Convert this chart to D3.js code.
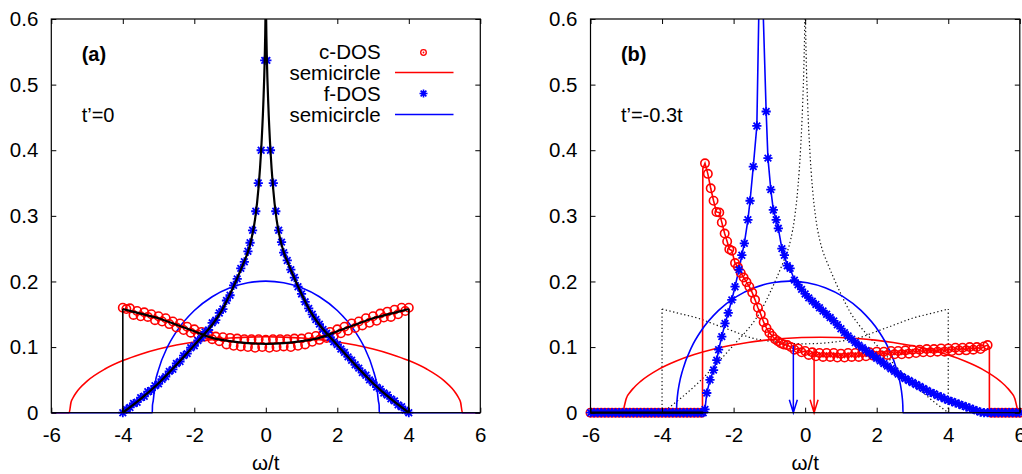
<!DOCTYPE html>
<html><head><meta charset="utf-8">
<script src="https://cdn.jsdelivr.net/npm/d3@7"></script>
<style>body{margin:0;background:#fff}svg{display:block}text{font-family:"Liberation Sans",Arial,Helvetica,sans-serif}</style>
</head><body><svg id="c" width="1022" height="474"></svg>
<script>
// ---------------- data ----------------
const xTicks = [-6,-4,-2,0,2,4,6];
const yTicks = [0,0.1,0.2,0.3,0.4,0.5,0.6];
const yTickLabels = ["0","0.1","0.2","0.3","0.4","0.5","0.6"];
const xLabel = "\u03c9/t";
const legendLabels = ["c-DOS","semicircle","f-DOS","semicircle"];
const panelTags = ["(a)","(b)"];
const panelNotes = ["t\u2019=0","t\u2019=-0.3t"];

// panel (a): t'=0
const cLineA = [[-4,0.158],[-3.5,0.151],[-3,0.144],[-2.5,0.134],[-2,0.124],[-1.5,0.114],[-1,0.109],[-0.5,0.106],[0,0.105],[0.5,0.106],[1,0.109],[1.5,0.114],[2,0.124],[2.5,0.134],[3,0.144],[3.5,0.151],[4,0.158]];
const fLineA = [[-4,0],[-3.5,0.021],[-3,0.045],[-2.5,0.073],[-2,0.103],[-1.75,0.118],[-1.5,0.134],[-1.25,0.154],[-1,0.181],[-0.8,0.205],[-0.6,0.231],[-0.5,0.245],[-0.4,0.265],[-0.3,0.295],[-0.2,0.345],[-0.13,0.4],[-0.07,0.47],[-0.03,0.54],[-0.01,0.6],[0,0.66],[0.01,0.6],[0.03,0.54],[0.07,0.47],[0.13,0.4],[0.2,0.345],[0.3,0.295],[0.4,0.265],[0.5,0.245],[0.6,0.231],[0.8,0.205],[1,0.181],[1.25,0.154],[1.5,0.134],[1.75,0.118],[2,0.103],[2.5,0.073],[3,0.045],[3.5,0.021],[4,0]];
const cDosA = [[-4.0,0.160],[-3.9,0.158],[-3.8,0.159],[-3.7,0.149],[-3.6,0.155],[-3.5,0.147],[-3.4,0.153],[-3.3,0.146],[-3.2,0.150],[-3.1,0.141],[-3.0,0.147],[-2.9,0.139],[-2.8,0.144],[-2.7,0.135],[-2.6,0.139],[-2.5,0.130],[-2.4,0.136],[-2.3,0.126],[-2.2,0.131],[-2.1,0.122],[-2.0,0.127],[-1.9,0.119],[-1.8,0.123],[-1.7,0.116],[-1.6,0.119],[-1.5,0.112],[-1.4,0.116],[-1.3,0.109],[-1.2,0.115],[-1.1,0.104],[-1.0,0.114],[-0.9,0.102],[-0.8,0.113],[-0.7,0.101],[-0.6,0.112],[-0.5,0.100],[-0.4,0.112],[-0.3,0.099],[-0.2,0.112],[-0.1,0.100],[0.0,0.111],[0.1,0.099],[0.2,0.112],[0.3,0.100],[0.4,0.112],[0.5,0.101],[0.6,0.112],[0.7,0.100],[0.8,0.113],[0.9,0.102],[1.0,0.113],[1.1,0.104],[1.2,0.115],[1.3,0.108],[1.4,0.117],[1.5,0.111],[1.6,0.120],[1.7,0.114],[1.8,0.123],[1.9,0.117],[2.0,0.127],[2.1,0.121],[2.2,0.131],[2.3,0.125],[2.4,0.136],[2.5,0.129],[2.6,0.139],[2.7,0.133],[2.8,0.144],[2.9,0.137],[3.0,0.147],[3.1,0.140],[3.2,0.151],[3.3,0.145],[3.4,0.154],[3.5,0.146],[3.6,0.157],[3.7,0.150],[3.8,0.160],[3.9,0.155],[4.0,0.160]];
const fDosA = [[-4.0,0.000],[-3.9,0.005],[-3.8,0.008],[-3.7,0.014],[-3.6,0.016],[-3.5,0.023],[-3.4,0.025],[-3.3,0.032],[-3.2,0.034],[-3.1,0.041],[-3.0,0.044],[-2.9,0.051],[-2.8,0.055],[-2.7,0.063],[-2.6,0.066],[-2.5,0.075],[-2.4,0.078],[-2.3,0.087],[-2.2,0.090],[-2.1,0.099],[-2.0,0.102],[-1.9,0.110],[-1.8,0.114],[-1.7,0.123],[-1.6,0.126],[-1.5,0.137],[-1.4,0.141],[-1.3,0.152],[-1.2,0.158],[-1.1,0.171],[-1.0,0.179],[-0.9,0.194],[-0.8,0.204],[-0.7,0.220],[-0.6,0.230],[-0.5,0.246],[-0.44,0.259],[-0.37,0.278],[-0.28,0.307],[-0.21,0.350],[-0.13,0.400],[-0.03,0.537],[0.03,0.537],[0.13,0.400],[0.21,0.350],[0.28,0.307],[0.36,0.278],[0.44,0.260],[0.5,0.244],[0.6,0.232],[0.7,0.218],[0.8,0.206],[0.9,0.192],[1.0,0.181],[1.1,0.169],[1.2,0.159],[1.3,0.150],[1.4,0.142],[1.5,0.135],[1.6,0.127],[1.7,0.121],[1.8,0.115],[1.9,0.108],[2.0,0.104],[2.1,0.097],[2.2,0.092],[2.3,0.085],[2.4,0.080],[2.5,0.073],[2.6,0.068],[2.7,0.061],[2.8,0.057],[2.9,0.050],[3.0,0.046],[3.1,0.039],[3.2,0.036],[3.3,0.030],[3.4,0.027],[3.5,0.021],[3.6,0.018],[3.7,0.012],[3.8,0.009],[3.9,0.004],[4.0,0.000]];
const semiRedA = [[-6,0],[-5.5,0],[-5.45,0.0156],[-5.4,0.0220],[-5.3,0.0309],[-5.2,0.0377],[-5.0,0.0482],[-4.5,0.0665],[-4.0,0.0794],[-3.5,0.0892],[-3.0,0.0970],[-2.5,0.1031],[-2.0,0.1078],[-1.5,0.1113],[-1.0,0.1138],[-0.5,0.1152],[0,0.1157],[0.5,0.1152],[1.0,0.1138],[1.5,0.1113],[2.0,0.1078],[2.5,0.1031],[3.0,0.0970],[3.5,0.0892],[4.0,0.0794],[4.5,0.0665],[5.0,0.0482],[5.2,0.0377],[5.3,0.0309],[5.4,0.0220],[5.45,0.0156],[5.5,0],[6,0]];
const semiBlueA = [[-6,0],[-3.175,0],[-3.17,0.0113],[-3.15,0.0178],[-3.1,0.0433],[-3.0,0.0656],[-2.75,0.1002],[-2.5,0.1236],[-2.0,0.1557],[-1.5,0.1767],[-1.0,0.1903],[-0.5,0.1980],[0,0.2005],[0.5,0.1980],[1.0,0.1903],[1.5,0.1767],[2.0,0.1557],[2.5,0.1236],[2.75,0.1002],[3.0,0.0656],[3.1,0.0433],[3.15,0.0178],[3.17,0.0113],[3.175,0],[6,0]];

// panel (b): t'=-0.3t
const cDosB = [[-2.80,0.380],[-2.72,0.364],[-2.64,0.342],[-2.56,0.323],[-2.48,0.306],[-2.40,0.305],[-2.33,0.290],[-2.25,0.273],[-2.18,0.261],[-2.12,0.249],[-2.05,0.247],[-1.96,0.228],[-1.88,0.222],[-1.80,0.213],[-1.72,0.206],[-1.64,0.199],[-1.56,0.192],[-1.48,0.183],[-1.40,0.172],[-1.32,0.160],[-1.24,0.150],[-1.16,0.138],[-1.08,0.129],[-1.00,0.122],[-0.92,0.117],[-0.84,0.112],[-0.76,0.109],[-0.68,0.106],[-0.60,0.104],[-0.50,0.103],[-0.40,0.100],[-0.30,0.096],[-0.20,0.098],[-0.10,0.092],[0.00,0.094],[0.10,0.088],[0.20,0.092],[0.30,0.086],[0.40,0.091],[0.50,0.085],[0.60,0.091],[0.70,0.085],[0.80,0.091],[0.90,0.084],[1.00,0.090],[1.10,0.084],[1.20,0.091],[1.30,0.085],[1.40,0.091],[1.50,0.085],[1.60,0.092],[1.70,0.086],[1.80,0.092],[1.90,0.087],[2.00,0.093],[2.10,0.087],[2.20,0.093],[2.30,0.088],[2.40,0.094],[2.50,0.089],[2.60,0.094],[2.70,0.089],[2.80,0.095],[2.90,0.090],[3.00,0.096],[3.10,0.091],[3.20,0.096],[3.30,0.092],[3.40,0.097],[3.50,0.092],[3.60,0.097],[3.70,0.093],[3.80,0.098],[3.90,0.093],[4.00,0.098],[4.10,0.094],[4.20,0.099],[4.30,0.095],[4.40,0.099],[4.50,0.095],[4.60,0.100],[4.70,0.096],[4.80,0.100],[4.90,0.097],[5.00,0.101],[5.10,0.103]];
const cEdgesB = [[-6,0],[-2.87,0],[-2.86,0.372],[5.15,0.100],[5.15,0],[6,0]];
const fDosB = [[-2.80,0.005],[-2.75,0.030],[-2.66,0.050],[-2.56,0.065],[-2.47,0.080],[-2.42,0.096],[-2.33,0.116],[-2.24,0.136],[-2.15,0.152],[-2.05,0.172],[-1.96,0.192],[-1.85,0.218],[-1.77,0.240],[-1.70,0.258],[-1.60,0.294],[-1.54,0.323],[-1.45,0.375],[-1.35,0.437],[-1.25,0.750],[-1.09,0.459],[-1.04,0.388],[-0.96,0.340],[-0.89,0.309],[-0.81,0.294],[-0.75,0.281],[-0.65,0.250],[-0.58,0.240],[-0.50,0.224],[-0.42,0.220],[-0.30,0.202],[-0.2,0.195],[-0.1,0.188],[0.0,0.181],[0.1,0.175],[0.2,0.170],[0.3,0.165],[0.4,0.160],[0.5,0.155],[0.6,0.150],[0.7,0.145],[0.8,0.140],[0.9,0.134],[1.0,0.128],[1.1,0.122],[1.2,0.117],[1.3,0.112],[1.4,0.107],[1.5,0.103],[1.6,0.099],[1.7,0.095],[1.8,0.091],[1.9,0.087],[2.0,0.083],[2.1,0.079],[2.2,0.075],[2.3,0.071],[2.4,0.067],[2.5,0.063],[2.6,0.059],[2.7,0.055],[2.8,0.052],[2.9,0.049],[3.0,0.046],[3.1,0.043],[3.2,0.040],[3.3,0.037],[3.4,0.034],[3.5,0.031],[3.6,0.029],[3.7,0.026],[3.8,0.024],[3.9,0.021],[4.0,0.019],[4.1,0.017],[4.2,0.015],[4.3,0.013],[4.4,0.011],[4.5,0.009],[4.6,0.007],[4.7,0.005],[4.8,0.003],[4.9,0.001]];
const semiRedB = [[-6,0],[-5.10,0],[-5.05,0.0109],[-5.00,0.0218],[-4.90,0.0307],[-4.80,0.0374],[-4.60,0.0478],[-4.10,0.0660],[-3.60,0.0788],[-3.10,0.0886],[-2.60,0.0963],[-2.10,0.1023],[-1.60,0.1071],[-1.10,0.1106],[-0.60,0.1131],[-0.10,0.1146],[0.43,0.1151],[0.96,0.1146],[1.46,0.1131],[1.96,0.1106],[2.46,0.1071],[2.96,0.1023],[3.46,0.0963],[3.96,0.0886],[4.46,0.0788],[4.96,0.0660],[5.46,0.0478],[5.66,0.0374],[5.76,0.0307],[5.86,0.0218],[5.91,0.0109],[5.96,0],[6,0]];
const semiBlueB = [[-6,0],[-3.595,0],[-3.59,0.0113],[-3.57,0.0252],[-3.52,0.0434],[-3.42,0.0657],[-3.17,0.1004],[-2.92,0.1238],[-2.42,0.1559],[-1.92,0.1769],[-1.42,0.1904],[-0.92,0.1981],[-0.43,0.2005],[0.06,0.1981],[0.56,0.1904],[1.06,0.1769],[1.56,0.1559],[2.06,0.1238],[2.31,0.1004],[2.56,0.0657],[2.66,0.0434],[2.71,0.0252],[2.73,0.0113],[2.735,0],[6,0]];
const zeroRedB = [-6,-5.9,-5.8,-5.7,-5.6,-5.5,-5.4,-5.3,-5.2,-5.1,-5,-4.9,-4.8,-4.7,-4.6,-4.5,-4.4,-4.3,-4.2,-4.1,-4,-3.9,-3.8,-3.7,-3.6,-3.5,-3.4,-3.3,-3.2,-3.1,-3,-2.9,5.2,5.3,5.4,5.5,5.6,5.7,5.8,5.9,6];
const zeroBlueB = [-6,-5.9,-5.8,-5.7,-5.6,-5.5,-5.4,-5.3,-5.2,-5.1,-5,-4.9,-4.8,-4.7,-4.6,-4.5,-4.4,-4.3,-4.2,-4.1,-4,-3.9,-3.8,-3.7,-3.6,-3.5,-3.4,-3.3,-3.2,-3.1,-3,-2.9,-2.85,5.0,5.1,5.2,5.3,5.4,5.5,5.6,5.7,5.8,5.9,6];
const arrowX = [-0.33, 0.25];
const arrowTop = [0.102, 0.097];

// ---------------- drawing ----------------
const RED = "#ff0000", BLUE = "#0000ff";
const FS = 20.5;
const svg = d3.select("#c");
const plotTop = 19, plotBottom = 412.7;
const panels = [{x0:51.3, x1:480.3, id:"a"}, {x0:590.5, x1:1019.8, id:"b"}];

function starPath(cx, cy, s) {
  const a = s * 0.72;
  return `M${cx-s},${cy}h${2*s}M${cx},${cy-s}v${2*s}M${cx-a},${cy-a}l${2*a},${2*a}M${cx-a},${cy+a}l${2*a},${-2*a}`;
}

panels.forEach((p, i) => {
  const x = d3.scaleLinear().domain([-6, 6]).range([p.x0, p.x1]);
  const y = d3.scaleLinear().domain([0, 0.6]).range([plotBottom, plotTop]);
  const g = svg.append("g");
  g.append("clipPath").attr("id", "clip" + p.id).append("rect")
    .attr("x", p.x0).attr("y", plotTop).attr("width", p.x1 - p.x0).attr("height", plotBottom - plotTop + 2);
  const plot = g.append("g").attr("clip-path", `url(#clip${p.id})`);
  const markers = g.append("g");
  const smooth = d3.line().x(d => x(d[0])).y(d => y(d[1])).curve(d3.curveMonotoneX);
  const straight = d3.line().x(d => x(d[0])).y(d => y(d[1]));

  const circles = (data) => markers.selectAll(null).data(data.filter(d => d[1] <= 0.6)).enter().append("circle")
    .attr("cx", d => x(d[0])).attr("cy", d => y(d[1])).attr("r", 4.2)
    .attr("fill", "none").attr("stroke", RED).attr("stroke-width", 1.6);
  const stars = (data) => markers.selectAll(null).data(data.filter(d => d[1] <= 0.6)).enter().append("path")
    .attr("d", d => starPath(x(d[0]), y(d[1]), 4.6)).attr("stroke", BLUE).attr("stroke-width", 1.8).attr("fill", "none");

  if (i === 0) {
    circles(cDosA);
    plot.append("path").attr("d", smooth(semiRedA)).attr("fill", "none").attr("stroke", RED).attr("stroke-width", 1.6);
    stars(fDosA);
    plot.append("path").attr("d", smooth(semiBlueA)).attr("fill", "none").attr("stroke", BLUE).attr("stroke-width", 1.6);
    const blk = g.append("g").attr("clip-path", `url(#clip${p.id})`);
    blk.append("path").attr("d", smooth(cLineA)).attr("fill", "none").attr("stroke", "#000").attr("stroke-width", 2.2);
    const ends = [cLineA[0], cLineA[cLineA.length - 1]];
    ends.forEach(e => blk.append("path").attr("d", straight([[e[0], 0], e])).attr("stroke", "#000").attr("stroke-width", 1.6));
    blk.append("path").attr("d", smooth(fLineA)).attr("fill", "none").attr("stroke", "#000").attr("stroke-width", 2.2);
  } else {
    // dotted t'=0 reference curves
    const dot = plot.append("g").attr("stroke", "#111").attr("stroke-width", 1.2).attr("stroke-dasharray", "1.3,2.5").attr("fill", "none");
    dot.append("path").attr("d", smooth(cLineA));
    [cLineA[0], cLineA[cLineA.length - 1]].forEach(e => dot.append("path").attr("d", straight([[e[0], 0], e])));
    dot.append("path").attr("d", smooth(fLineA));

    const redLine = [cEdgesB[0], cEdgesB[1], cEdgesB[2]].concat(cDosB, [cEdgesB[3], cEdgesB[4], cEdgesB[5]]);
    plot.append("path").attr("d", straight(redLine)).attr("fill", "none").attr("stroke", RED).attr("stroke-width", 1.6);
    circles(cDosB);
    circles(zeroRedB.map(v => [v, 0]));
    plot.append("path").attr("d", smooth(semiRedB)).attr("fill", "none").attr("stroke", RED).attr("stroke-width", 1.6);
    const blueLine = [[-6, 0], [-2.82, 0]].concat(fDosB, [[4.95, 0], [6, 0]]);
    plot.append("path").attr("d", straight(blueLine)).attr("fill", "none").attr("stroke", BLUE).attr("stroke-width", 1.6);
    stars(fDosB);
    stars(zeroBlueB.map(v => [v, 0]));
    plot.append("path").attr("d", smooth(semiBlueB)).attr("fill", "none").attr("stroke", BLUE).attr("stroke-width", 1.6);
    g.append("line").attr("x1", p.x0).attr("x2", x(-2.85)).attr("y1", plotBottom).attr("y2", plotBottom)
      .attr("stroke", "#000").attr("stroke-width", 2.2);
    // arrows
    arrowX.forEach((axv, k) => {
      const col = k === 0 ? BLUE : RED;
      const px = x(axv), y0 = y(arrowTop[k]), y1 = y(0);
      g.append("path").attr("d", `M${px},${y0}V${y1}M${px-4},${y1-13}L${px},${y1}L${px+4},${y1-13}`)
        .attr("fill", "none").attr("stroke", col).attr("stroke-width", 1.5);
    });
  }

  // frame
  g.append("rect").attr("x", p.x0).attr("y", plotTop).attr("width", p.x1 - p.x0).attr("height", plotBottom - plotTop)
    .attr("fill", "none").attr("stroke", "#000").attr("stroke-width", 1.2);

  // axes
  const ax = g.append("g").attr("transform", `translate(0,${plotBottom})`)
    .call(d3.axisBottom(x).tickValues(xTicks).tickSize(-5).tickPadding(15).tickFormat(d3.format("d")));
  const ay = g.append("g").attr("transform", `translate(${p.x0},0)`)
    .call(d3.axisLeft(y).tickValues(yTicks).tickSize(-5).tickPadding(13).tickFormat((d, k) => yTickLabels[k]));
  const at = g.append("g").attr("transform", `translate(0,${plotTop})`)
    .call(d3.axisTop(x).tickValues(xTicks).tickSize(-5).tickFormat(""));
  const ar = g.append("g").attr("transform", `translate(${p.x1},0)`)
    .call(d3.axisRight(y).tickValues(yTicks).tickSize(-5).tickFormat(""));
  [ax, ay, at, ar].forEach(a => {
    a.select(".domain").remove();
    a.selectAll("line").attr("stroke", "#000").attr("stroke-width", 1);
    a.selectAll("text").attr("font-size", FS).attr("fill", "#000").attr("font-family", '"Liberation Sans",Arial,sans-serif');
  });
  ax.selectAll("text").text(d => d < 0 ? "-" + Math.abs(d) : String(d));

  // axis label
  g.append("text").attr("x", (p.x0 + p.x1) / 2).attr("y", 470).attr("text-anchor", "middle")
    .attr("font-size", FS).text(xLabel);
  // tags
  g.append("text").attr("x", p.x0 + 30.4).attr("y", 61).attr("font-size", 20).attr("font-weight", "bold").text(panelTags[i]);
  g.append("text").attr("x", p.x0 + 30.4).attr("y", 121.7).attr("font-size", 20).text(panelNotes[i]);

  if (i === 0) {
    const ly = [59.3, 80, 100.7, 121.7];
    const lg = g.append("g");
    legendLabels.forEach((t, k) => {
      lg.append("text").attr("x", 380.6).attr("y", ly[k]).attr("text-anchor", "end").attr("font-size", FS).text(t);
    });
    lg.append("circle").attr("cx", 423.5).attr("cy", 52.5).attr("r", 2.8).attr("fill", "none").attr("stroke", RED).attr("stroke-width", 1.3);
    lg.append("circle").attr("cx", 423.5).attr("cy", 52.5).attr("r", 0.9).attr("fill", RED);
    lg.append("line").attr("x1", 395).attr("x2", 453.5).attr("y1", 72.5).attr("y2", 72.5).attr("stroke", RED).attr("stroke-width", 1.6);
    lg.append("path").attr("d", starPath(423.5, 93.5, 4)).attr("stroke", BLUE).attr("stroke-width", 1.6);
    lg.append("line").attr("x1", 395).attr("x2", 453.5).attr("y1", 114.5).attr("y2", 114.5).attr("stroke", BLUE).attr("stroke-width", 1.6);
  }
});
</script></body></html>
